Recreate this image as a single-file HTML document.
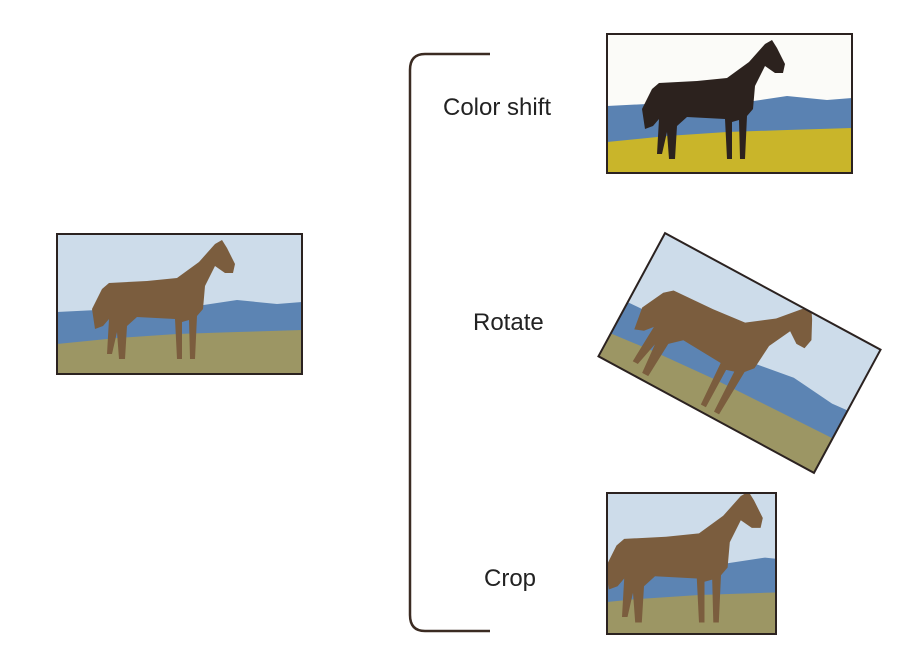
<!DOCTYPE html>
<html><head><meta charset="utf-8"><style>
html,body{margin:0;padding:0;background:#fff;width:910px;height:662px;overflow:hidden}
svg{display:block}
text{font-family:"Liberation Sans",sans-serif;font-size:24px;fill:#222}
</style></head><body>
<svg width="910" height="662" viewBox="0 0 910 662">
<defs>
<g id="horse">
<polygon points="45,55 35,75 38,95 46,92 52,85 50,120 55,120 60,98 62,125 68,125 70,92 80,83 118,85 120,125 125,125 125,88 132,86 133,125 138,125 140,82 146,75 148,52 158,32 168,39 176,39 178,30 170,14 165,6 158,10 142,28 120,44 90,47 52,49"/>
</g>
<g id="photo">
<rect x="0" y="0" width="245" height="140" fill="#cddcea"/>
<polygon points="0,78 40,76 90,70 140,72 180,66 220,70 245,68 245,115 0,115" fill="#5c84b3"/>
<polygon points="0,110 60,104 120,100 180,98 245,96 245,140 0,140" fill="#9c9664"/>
<use href="#horse" fill="#7b5d3e"/>
</g>
<clipPath id="cropclip"><rect x="0" y="0" width="169" height="141"/></clipPath>
<clipPath id="rotclip"><rect x="0" y="0" width="245" height="140"/></clipPath>
</defs>

<g transform="translate(57,234)">
<use href="#photo"/>
<rect x="0" y="0" width="245" height="140" fill="none" stroke="#2b2220" stroke-width="2"/>
</g>

<path d="M490,54 L425,54 Q410,54 410,70 L410,615 Q410,631 425,631 L490,631" fill="none" stroke="#3b2b22" stroke-width="2.5"/>

<text x="443" y="115">Color shift</text>
<text x="473" y="330">Rotate</text>
<text x="484" y="586">Crop</text>

<g transform="translate(607,34)">
<rect x="0" y="0" width="245" height="139" fill="#fbfbf8"/>
<polygon points="0,72 40,70 90,66 140,68 180,62 220,66 245,64 245,112 0,112" fill="#5a82b2"/>
<polygon points="0,108 60,102 120,98 180,96 245,94 245,139 0,139" fill="#c9b52a"/>
<use href="#horse" fill="#2c221e"/>
<rect x="0" y="0" width="245" height="139" fill="none" stroke="#2b2220" stroke-width="2"/>
</g>

<g transform="translate(739.5,353) rotate(28.4) translate(-122.5,-70)">
<g clip-path="url(#rotclip)">
<g transform="translate(-25,-10) scale(1.15)"><use href="#photo"/></g>
</g>
<rect x="0" y="0" width="245" height="140" fill="none" stroke="#2b2220" stroke-width="2"/>
</g>

<g transform="translate(607,493)">
<g clip-path="url(#cropclip)">
<g transform="translate(-40,-8) scale(1.1)"><use href="#photo"/></g>
</g>
<rect x="0" y="0" width="169" height="141" fill="none" stroke="#2b2220" stroke-width="2"/>
</g>
</svg>
</body></html>
